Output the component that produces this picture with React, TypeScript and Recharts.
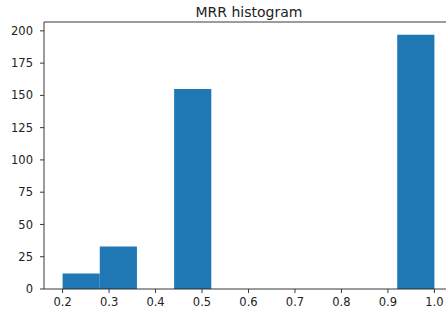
import { BarChart, Bar, XAxis, YAxis, ReferenceLine } from 'recharts'

const binEdges = [0.2, 0.28, 0.36, 0.44, 0.52, 0.6, 0.68, 0.76, 0.84, 0.92, 1.0]
const counts = [12, 33, 0, 155, 0, 0, 0, 0, 0, 197]
const xTicks = [0.2, 0.3, 0.4, 0.5, 0.6, 0.7, 0.8, 0.9, 1.0]
const yTicks = [0, 25, 50, 75, 100, 125, 150, 175, 200]

const X_DOMAIN: [number, number] = [0.16, 1.04]
const Y_MAX = 206.85

const CHART_W = 460
const CHART_H = 312
const MARGIN = { top: 22, right: 7, left: 0, bottom: 0 }
const Y_AXIS_W = 44

const data = counts.map((count, i) => ({
  mid: (binEdges[i] + binEdges[i + 1]) / 2,
  count,
}))

// plot width in px, used to size the bars to one bin
const plotW = CHART_W - MARGIN.left - MARGIN.right - Y_AXIS_W
const binPx = (plotW * (binEdges[1] - binEdges[0])) / (X_DOMAIN[1] - X_DOMAIN[0])

const tickStyle = { fontFamily: 'DejaVu Sans', fontSize: 11.5, fill: '#222' }

export default function App() {
  return (
    <div
      style={{
        position: 'absolute',
        left: 0,
        top: 0,
        width: 446,
        height: 312,
        overflow: 'hidden',
        background: '#fff',
      }}
    >
      <div
        style={{
          position: 'absolute',
          left: 0,
          width: 498,
          top: 5,
          textAlign: 'center',
          fontFamily: 'DejaVu Sans',
          fontSize: 14,
          color: '#222',
          lineHeight: '14px',
          whiteSpace: 'nowrap',
        }}
      >
        MRR histogram
      </div>
      <BarChart
        width={CHART_W}
        height={CHART_H}
        data={data}
        margin={MARGIN}
        barCategoryGap={0}
        barGap={0}
      >
        <XAxis
          dataKey="mid"
          type="number"
          domain={X_DOMAIN}
          allowDataOverflow
          ticks={xTicks}
          tickFormatter={(v: number) => v.toFixed(1)}
          tick={tickStyle}
          tickSize={4}
          tickMargin={5}
          height={23}
          stroke="#222"
          strokeWidth={0.9}
        />
        <YAxis
          type="number"
          domain={[0, Y_MAX]}
          allowDataOverflow
          ticks={yTicks}
          tick={tickStyle}
          tickSize={4}
          tickMargin={7}
          width={Y_AXIS_W}
          stroke="#222"
          strokeWidth={0.9}
        />
        <ReferenceLine y={Y_MAX} stroke="#222" strokeWidth={0.9} />
        <Bar
          dataKey="count"
          fill="#1f77b4"
          barSize={binPx - 0.01}
          isAnimationActive={false}
        />
      </BarChart>
    </div>
  )
}
